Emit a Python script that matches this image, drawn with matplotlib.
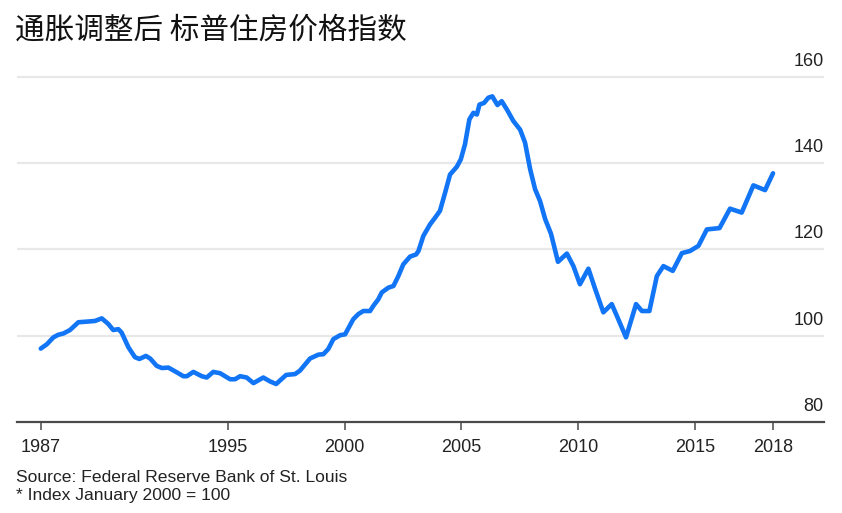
import matplotlib
matplotlib.use("Agg")
from matplotlib import pyplot as plt
from matplotlib import transforms

# S&P/Case-Shiller index, inflation adjusted (Jan 2000 = 100)
years = [1987.00, 1987.26, 1987.54, 1987.75, 1987.97, 1988.25, 1988.61, 1989.11,
         1989.32, 1989.61, 1989.89, 1990.10, 1990.32, 1990.46, 1990.75, 1991.03,
         1991.22, 1991.50, 1991.68, 1991.96, 1992.18, 1992.46, 1992.82, 1993.10,
         1993.25, 1993.53, 1993.89, 1994.10, 1994.38, 1994.67, 1995.10, 1995.31,
         1995.53, 1995.81, 1996.10, 1996.52, 1996.81, 1997.07, 1997.50, 1997.88,
         1998.09, 1998.52, 1998.88, 1999.09, 1999.30, 1999.52, 1999.81, 2000.02,
         2000.37, 2000.59, 2000.80, 2001.09, 2001.23, 2001.44, 2001.59, 2001.87,
         2002.09, 2002.30, 2002.51, 2002.80, 2003.06, 2003.16, 2003.37, 2003.66,
         2003.87, 2004.08, 2004.30, 2004.51, 2004.80, 2004.97, 2005.15, 2005.34,
         2005.51, 2005.66, 2005.77, 2005.97, 2006.15, 2006.32, 2006.54, 2006.72,
         2006.94, 2007.22, 2007.51, 2007.72, 2007.94, 2008.15, 2008.36, 2008.58,
         2008.83, 2009.13, 2009.51, 2009.79, 2010.07, 2010.43, 2010.72, 2011.07,
         2011.43, 2011.71, 2012.04, 2012.47, 2012.72, 2013.04, 2013.36, 2013.64,
         2014.04, 2014.43, 2014.78, 2015.14, 2015.50, 2016.04, 2016.49, 2016.99,
         2017.49, 2017.99, 2018.33]
index = [97.0, 98.0, 99.6, 100.2, 100.5, 101.3, 103.1, 103.3,
         103.4, 104.0, 102.7, 101.3, 101.5, 100.7, 97.3, 95.0,
         94.6, 95.3, 94.7, 93.0, 92.5, 92.6, 91.5, 90.6,
         90.6, 91.6, 90.6, 90.3, 91.6, 91.3, 89.9, 89.9,
         90.6, 90.3, 89.0, 90.3, 89.4, 88.8, 90.9, 91.1,
         91.9, 94.7, 95.6, 95.7, 96.9, 99.2, 100.1, 100.3,
         103.8, 105.0, 105.7, 105.7, 106.9, 108.4, 110.0, 111.1,
         111.5, 113.8, 116.5, 118.3, 118.8, 119.6, 123.1, 125.8,
         127.3, 128.9, 133.1, 137.3, 139.1, 140.8, 144.3, 150.1,
         151.6, 151.2, 153.5, 153.9, 155.1, 155.4, 153.4, 154.3,
         152.4, 149.7, 147.7, 144.7, 138.5, 133.9, 131.2, 127.0,
         123.6, 117.1, 119.0, 116.1, 111.9, 115.5, 110.8, 105.4,
         107.3, 103.8, 99.6, 107.3, 105.7, 105.7, 113.8, 116.1,
         115.0, 119.1, 119.6, 120.8, 124.6, 124.9, 129.4, 128.5,
         134.8, 133.7, 137.6]

xtick_labels = ["1987", "1995", "2000", "2005", "2010", "2015", "2018"]
xtick_pos = [1987, 1995, 2000, 2005, 2010, 2015, years[-1]]
yticks = [80, 100, 120, 140, 160]

title = "通胀调整后 标普住房价格指数"
notes = ["Source: Federal Reserve Bank of St. Louis", "* Index January 2000 = 100"]

W, H = 842, 513
fig = plt.figure(figsize=(W / 100, H / 100), dpi=100)
fig.patch.set_facecolor("white")

ax = fig.add_axes([16.7 / W, (H - 422) / H, (823.5 - 16.7) / W, (422 - 67.9) / H])
ax.set_xlim(1985.97, 2020.49)
ax.set_ylim(80, 162)

for v in yticks[1:]:
    ax.axhline(v, color="#e8e8e8", lw=1.6, zorder=1)

ax.plot(years, index, color="#1275f5", lw=3.3, solid_capstyle="round",
        solid_joinstyle="round", zorder=3)

for s in ["top", "left", "right"]:
    ax.spines[s].set_visible(False)
ax.spines["bottom"].set_color("#4a4a4a")
ax.spines["bottom"].set_linewidth(1.6)

ax.set_xticks(xtick_pos)
ax.set_xticklabels(xtick_labels, family=["Liberation Sans", "DejaVu Sans"],
                   fontsize=13, color="#222222")
ax.tick_params(axis="x", direction="out", length=5.5, width=1.1,
               color="#4a4a4a", pad=7)
ax.set_yticks([])

# y labels sit above their gridline at the right edge
off = transforms.offset_copy(ax.get_yaxis_transform(), fig=fig, x=0, y=7.8, units="points")
for v in yticks:
    ax.text(1.0, v, str(v), transform=off, ha="right", va="baseline",
            family=["Liberation Sans", "DejaVu Sans"], fontsize=13, color="#222222")

fig.text(15 / W, 1 - 39 / H, title, family=["Noto Sans CJK SC", "DejaVu Sans"],
         fontsize=21.3, color="#111111", va="baseline", ha="left")

fig.text(16 / W, 1 - 482 / H, notes[0], family=["Liberation Sans", "DejaVu Sans"],
         fontsize=12.6, color="#222222", va="baseline")
fig.text(16 / W, 1 - 500 / H, notes[1], family=["Liberation Sans", "DejaVu Sans"],
         fontsize=12.6, color="#222222", va="baseline")

fig.savefig("out.png", dpi=100, facecolor="white")
